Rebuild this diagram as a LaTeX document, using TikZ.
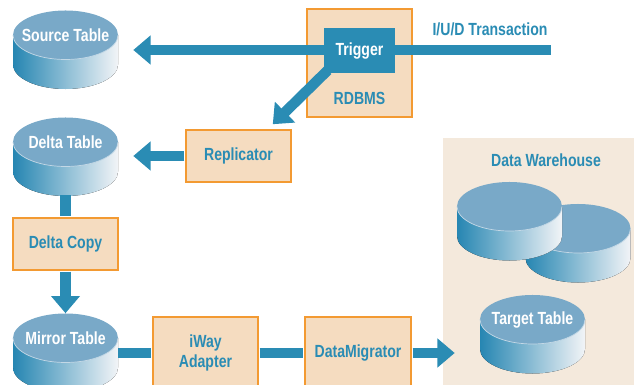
\documentclass[tikz,border=0pt]{standalone}
\usepackage{fontspec}
\setmainfont{Liberation Sans}[FakeStretch=0.8]
\usetikzlibrary{arrows.meta}
\definecolor{flowc}{RGB}{42,140,180}
\definecolor{cyltop}{RGB}{121,169,200}
\definecolor{cylleft}{RGB}{38,134,178}
\definecolor{cylright}{RGB}{242,244,247}
\definecolor{boxfill}{RGB}{245,220,192}
\definecolor{boxline}{RGB}{243,154,50}
\definecolor{dwbg}{RGB}{244,233,220}
\tikzset{
	every node/.style={font=\bfseries\fontsize{12.5}{14}\selectfont},
	dblabel/.style={text=white, minimum width=2.625cm, minimum height=1.225cm, inner sep=0pt},
	procbox/.style={draw=boxline, fill=boxfill, line width=1.1pt, text=flowc, inner sep=0pt, align=center},
	flow/.style={draw=flowc, line width=0.26cm, -{Triangle[length=0.43cm 0 0, width=0.7cm 0 0]}},
	link/.style={draw=flowc, line width=0.26cm}
}
\def\dbcyl(#1,#2)#3#4{
	\fill[left color=cylleft, right color=cylright] (#1-52.5,#2) -- (#1-52.5,#2-29.5) arc[start angle=180, end angle=360, x radius=1.3125cm, y radius=0.6125cm] -- (#1+52.5,#2) -- cycle;
	\fill[cyltop] (#1,#2) ellipse[x radius=1.3125cm, y radius=0.6125cm];
	\draw[white!55!cyltop, line width=0.5pt] (#1+52.5,#2) arc[start angle=0, end angle=-180, x radius=1.3125cm, y radius=0.6125cm];
	\node[dblabel] (#3) at (#1,#2) {#4};
	\coordinate (#3 bot) at (#1,#2-53.5);
}

\begin{document}
\begin{tikzpicture}[x=0.025cm, y=0.025cm]
		%%%%% START %%%%%
		\useasboundingbox (0,0) rectangle (634,-385);
		\clip (0,0) rectangle (634,-385);
		
		\fill[dwbg] (443,-138) rectangle (634,-385);
		\node[text=flowc] (dw) at (546,-160) {Data Warehouse};
		
		\dbcyl(65.5,-35){src}{Source Table}
		\dbcyl(65.5,-142){delta}{Delta Table}
		\dbcyl(65.5,-338){mirror}{Mirror Table}
		\dbcyl(578,-228.5){dwb}{}
		\dbcyl(509.5,-206.5){dwa}{}
		\dbcyl(532.5,-319.5){target}{Target Table}
		
		\node[procbox, minimum width=2.625cm, minimum height=2.7cm] (rdbmsbox) at (359.5,-63) {};
		\node[text=flowc] (rdbms) at (359.5,-98) {RDBMS};
		\node[text=flowc] (iud) at (490,-29) {I/U/D Transaction};
		
		\coordinate (feed) at (551,-50);
		\draw[flow, shorten >=0.375cm] (feed) -- (feed -| src.east);
		\node[fill=flowc, text=white, minimum width=1.775cm, minimum height=1.125cm] (trigger) at (359.5,-50.5) {Trigger};
		
		\node[procbox, minimum width=2.625cm, minimum height=1.3cm] (repl) at (238.5,-156) {Replicator};
		\draw[flow] ([shift={(4,3)}]trigger.south west) -- ([shift={(-19,5)}]repl.north east);
		\draw[flow, shorten >=0.375cm, shorten <=0.6pt] (repl.west) -- (repl.west -| delta.east);
		
		\node[procbox, minimum width=2.625cm, minimum height=1.3cm] (dcopy) at (65.5,-244) {Delta Copy};
		\draw[link, shorten >=0.6pt] (delta bot) -- (dcopy.north);
		\draw[flow, shorten <=0.6pt] (dcopy.south) -- (mirror.north);
		
		\node[procbox, minimum width=2.625cm, minimum height=1.8cm] (iway) at (205.5,-353) {iWay\\Adapter};
		\node[procbox, minimum width=2.65cm, minimum height=1.8cm] (migr) at (358,-353) {DataMigrator};
		\draw[link, shorten >=0.6pt] (iway.west -| mirror.east) -- (iway.west);
		\draw[link, shorten >=0.6pt, shorten <=0.6pt] (iway.east) -- (migr.west);
		\draw[flow, shorten >=0.625cm, shorten <=0.6pt] (migr.east) -- (migr.east -| target.west);
		%%%%% END %%%%%
	\end{tikzpicture}
\end{document}
